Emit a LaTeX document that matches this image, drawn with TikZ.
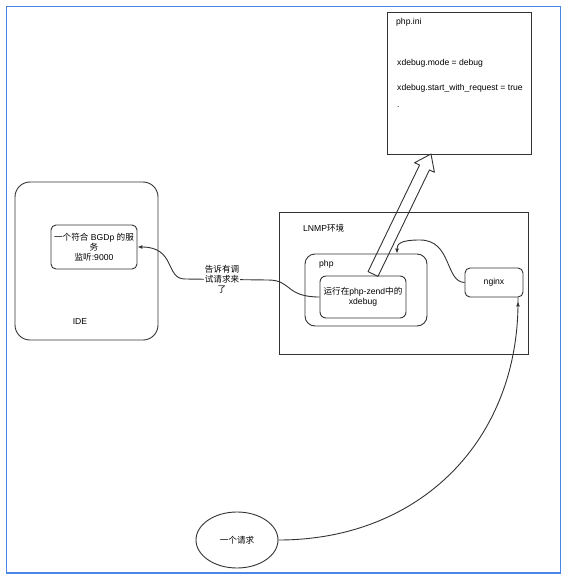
\documentclass[tikz,border=0pt]{standalone}
\usepackage{fontspec}
\setmainfont{Liberation Sans}
\newfontfamily\cjk{Noto Sans CJK SC}
\usetikzlibrary{arrows.meta,shapes.geometric}
\definecolor{frameblue}{HTML}{4A86E8}
\definecolor{ink}{HTML}{333333}
\tikzset{
  box/.style={draw=ink, line width=0.9pt, rounded corners=#1, inner sep=0pt},
  box/.default=6pt,
  txt/.style={font=\fontsize{8.6}{10}\selectfont, align=center, inner sep=0pt},
  tip/.style={-{Latex[length=5pt,width=4pt]}, draw=ink, line width=0.9pt}
}
\begin{document}
\begin{tikzpicture}[x=1pt,y=-1pt]
\useasboundingbox[fill=white] (0,0) rectangle (567,580);
\draw[frameblue, line width=1.5pt] (6.5,6.5) rectangle (560.5,573);
% IDE side
\node[box=15pt, minimum width=143pt, minimum height=158pt] (ide) at (86.5,261) {};
\node[txt] (idelabel) at (80,322) {IDE};
\node[box=5pt, minimum width=86pt, minimum height=44pt] (service) at (94,247) {};
\node[txt] (servicetext) at (94,247) {{\cjk 一个符合} BGDp {\cjk 的服}\\{\cjk 务}\\{\cjk 监听}:9000};
% LNMP side
\node[draw=ink, line width=0.9pt, minimum width=249pt, minimum height=142pt] (lnmp) at (403.5,283) {};
\node[txt, anchor=west] (lnmplabel) at (303,228) {LNMP{\cjk 环境}};
\node[box=10pt, minimum width=122pt, minimum height=72pt] (php) at (366,290) {};
\node[txt, anchor=west] (phplabel) at (319,264) {php};
\node[box=6pt, minimum width=86pt, minimum height=42pt] (xdebug) at (363,297) {};
\node[txt] (xdebugtext) at (363,297) {{\cjk 运行在}php-zend{\cjk 中的}\\xdebug};
\node[box=5pt, minimum width=58pt, minimum height=29pt] (nginx) at (494,282.5) {};
\node[txt] (nginxtext) at (494,282.5) {nginx};
% php.ini
\node[draw=ink, line width=0.9pt, minimum width=144pt, minimum height=142pt] (phpini) at (459,83) {};
\node[txt, anchor=west] (ini0) at (396,22) {php.ini};
\node[txt, anchor=west] (ini1) at (397,63) {xdebug.mode = debug};
\node[txt, anchor=west] (ini2) at (397,88) {xdebug.start\_with\_request = true};
\node[txt, anchor=west] (ini3) at (397,107) {.};
% request
\node[draw=ink, line width=0.9pt, ellipse, minimum width=82pt, minimum height=56pt, inner sep=0pt] (request) at (237,540) {};
\node[txt] (requesttext) at (237,540) {{\cjk 一个请求}};
% connectors
\draw[tip] (request.east) .. controls (420,540) and (520,440) .. (nginx.south east -| 518,0) ++(0,4);
\draw[tip] (nginx.west) .. controls (445,282) and (452,240) .. (420,240) .. controls (400,240) and (397,244) .. (php.north -| 397,0);
\draw[tip] (xdebug.west) .. controls (285,297) and (292,280) .. (268,280) -- (185,279) .. controls (165,279) and (176,247) .. (service.east);
\node[txt, fill=white, inner sep=1pt] (telllabel) at (222,279) {{\cjk 告诉有调}\\{\cjk 试请求来}\\{\cjk 了}};
% block arrow
\draw[ink, line width=0.9pt, line join=round] (368.05,271.6) -- (419.55,165.1) -- (414.6,162.7) -- (431,154) -- (434.4,172.3) -- (429.45,169.9) -- (377.95,276.4) -- cycle;
\end{tikzpicture}
\end{document}
